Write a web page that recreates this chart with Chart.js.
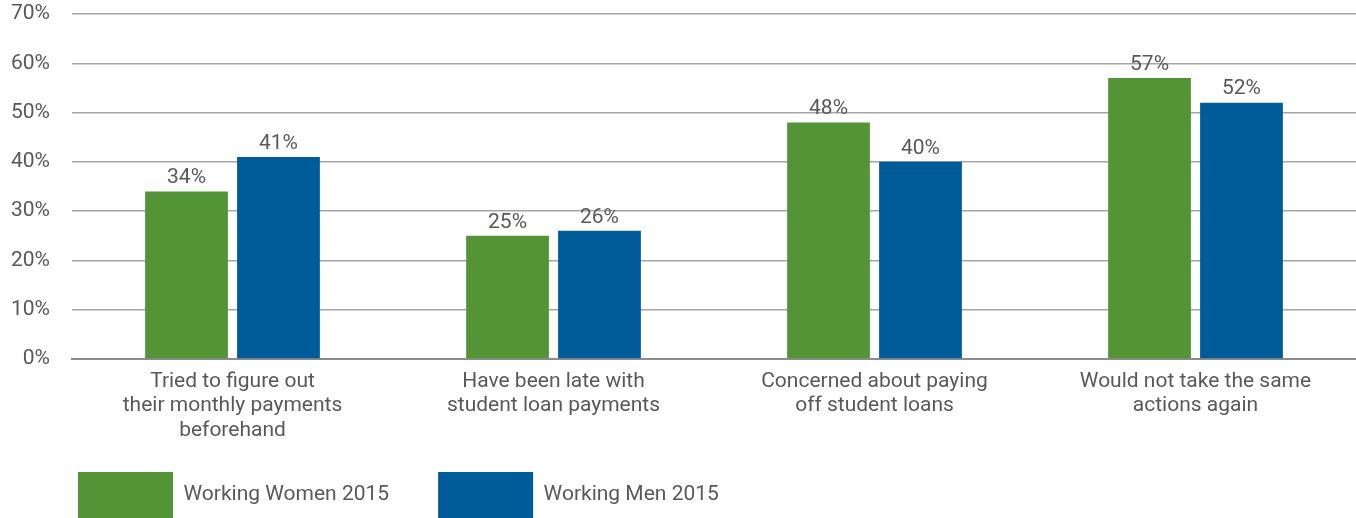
<!DOCTYPE html>
<html>
<head>
<meta charset="utf-8">
<script src="https://cdn.jsdelivr.net/npm/chart.js@4"></script>
<style>
  html, body { margin: 0; padding: 0; background: #ffffff; }
  #wrap { width: 1356px; height: 518px; position: relative; }
</style>
</head>
<body>
<div id="wrap"><canvas id="c"></canvas></div>
<script>
const categories = [
  ["Tried to figure out", "their monthly payments", "beforehand"],
  ["Have been late with", "student loan payments"],
  ["Concerned about paying", "off student loans"],
  ["Would not take the same", "actions again"]
];
const seriesNames = ["Working Women 2015", "Working Men 2015"];
const womenValues = [34, 25, 48, 57];
const menValues = [41, 26, 40, 52];
const yTicks = [0, 10, 20, 30, 40, 50, 60, 70];

const FONT = "Roboto, 'Liberation Sans Narrow', sans-serif";
const TEXT = '#595959';

const valueLabels = {
  id: 'valueLabels',
  afterDatasetsDraw(chart) {
    const ctx = chart.ctx;
    ctx.save();
    ctx.font = '21px ' + FONT;
    ctx.fillStyle = TEXT;
    ctx.textAlign = 'center';
    ctx.textBaseline = 'bottom';
    chart.data.datasets.forEach((ds, di) => {
      const meta = chart.getDatasetMeta(di);
      meta.data.forEach((bar, i) => {
        ctx.fillText(ds.data[i] + '%', bar.x, bar.y - 3);
      });
    });
    ctx.restore();
  }
};

const legendShift = {
  id: 'legendShift',
  afterLayout(chart) {
    const lg = chart.legend;
    if (lg) {
      const dx = 29, dy = 10;
      lg.left += dx; lg.right += dx;
      lg.top += dy; lg.bottom += dy;
      if (lg.legendHitBoxes) lg.legendHitBoxes.forEach(h => { h.left += dx; h.top += dy; });
    }
    const xs = chart.scales.x;
    if (xs) xs.bottom = chart.height;
  }
};

new Chart(document.getElementById('c'), {
  type: 'bar',
  data: {
    labels: categories,
    datasets: [
      { label: seriesNames[0], data: womenValues, backgroundColor: '#539536', borderWidth: 0 },
      { label: seriesNames[1], data: menValues, backgroundColor: '#005b99', borderWidth: 0 }
    ]
  },
  options: {
    responsive: true,
    maintainAspectRatio: false,
    animation: false,
    devicePixelRatio: 1,
    layout: { padding: { top: 14, right: 0, left: 0, bottom: 0 } },
    datasets: { bar: { categoryPercentage: 0.573, barPercentage: 0.90 } },
    scales: {
      x: {
        grid: { display: false, drawTicks: false },
        border: { display: true, color: '#8c8c8c', width: 2 },
        ticks: { color: TEXT, font: { family: FONT, size: 21, lineHeight: 1.15 }, padding: 11, maxRotation: 0, autoSkip: false },
        afterFit(scale) { scale.height = 54; }
      },
      y: {
        min: 0, max: 70,
        afterBuildTicks(scale) { scale.ticks = yTicks.map(v => ({ value: v })); },
        grid: { color: '#a6a6a6', lineWidth: 1.5, drawTicks: false },
        border: { display: false },
        ticks: { color: TEXT, font: { family: FONT, size: 21 }, padding: 22, callback: v => v + '%' },
        afterFit(scale) { scale.width = 72; scale.paddingTop = 0; scale.paddingBottom = 0; }
      }
    },
    plugins: {
      legend: {
        position: 'bottom',
        align: 'start',
        labels: {
          boxWidth: 95, boxHeight: 46, padding: 49,
          color: TEXT, font: { family: FONT, size: 21 }
        }
      },
      tooltip: { enabled: false }
    }
  },
  plugins: [valueLabels, legendShift]
});
</script>
</body>
</html>
